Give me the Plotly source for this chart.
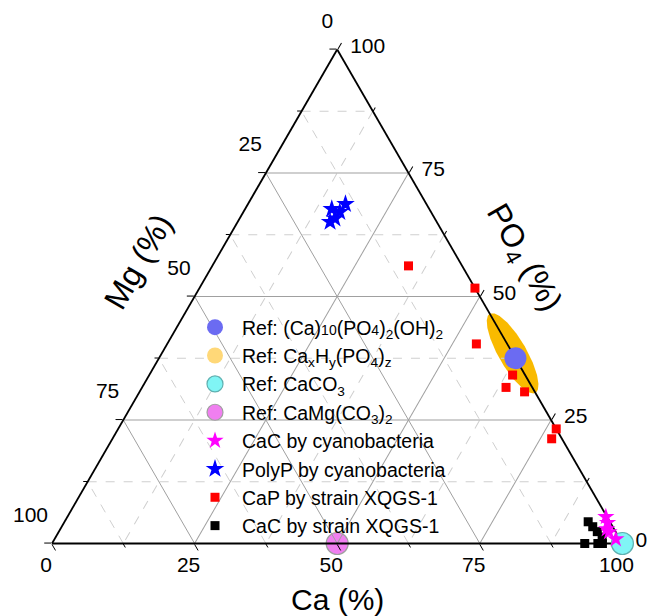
import numpy as np
import plotly.graph_objects as go

# ---------------- data (all values in %) ----------------
# ternary mapping: a = PO4 (top), b = Mg (bottom-left), c = Ca (bottom-right)
polyp_po4 = [67.7, 68.7, 67.1, 65.1, 65.8]
polyp_mg = [17.1, 14.2, 16.0, 18.7, 17.5]
polyp_ca = [15.2, 17.1, 16.9, 16.2, 16.7]

cac_cyano_po4 = [5.4, 4.2, 2.9, 2.3, 0.9]
cac_cyano_mg = [0.2, 0.5, 1.3, 1.2, 0.7]
cac_cyano_ca = [94.4, 95.3, 95.8, 96.5, 98.4]

cap_strain_po4 = [56.2, 51.7, 40.4, 34.1, 31.6, 30.7, 23.2, 21.2]
cap_strain_mg = [9.4, 0.0, 5.4, 2.2, 4.6, 1.8, 0.0, 1.8]
cap_strain_ca = [34.4, 48.3, 54.2, 63.7, 63.8, 67.5, 76.8, 77.0]

cac_strain_po4 = [4.4, 3.4, 2.4, 1.3, 0.0, 0.0, 0.0]
cac_strain_mg = [3.8, 3.5, 3.2, 2.9, 6.6, 4.3, 3.5]
cac_strain_ca = [91.8, 93.1, 94.4, 95.8, 93.4, 95.7, 96.5]

hap_po4, hap_mg, hap_ca = [37.5], [0.0], [62.5]
caco3_po4, caco3_mg, caco3_ca = [0.0], [0.0], [100.0]
dolo_po4, dolo_mg, dolo_ca = [0.0], [50.0], [50.0]

# Ca_xH_y(PO4)_z reference region: centre composition and half-axes (in % units)
caph_center_po4, caph_center_mg, caph_center_ca = 38.5, 0.0, 61.5
caph_half_long, caph_half_short = 8.0, 2.45

tick_vals = [0, 25, 50, 75, 100]
tick_labels = ["0", "25", "50", "75", "100"]
minor_vals = [12.5, 37.5, 62.5, 87.5]

# ---------------- layout geometry ----------------
W, H = 649, 616
L_px, R_px, B_px = 52.0, 622.4, 543.5
tri_w = R_px - L_px
tri_h = tri_w * np.sqrt(3) / 2
T_px = B_px - tri_h
dom_x = [L_px / W, R_px / W]
dom_y = [(H - B_px) / H, (H - T_px) / H]
PX = 100 / tri_w  # cartesian units per pixel (triangle side = 100 units)

FONT = "Liberation Sans, Arial, sans-serif"


def to_xy(a, c, dx=0.0, dy=0.0):
    """ternary (a=PO4, c=Ca) -> cartesian overlay coords, with optional pixel offset"""
    a = np.asarray(a, float)
    c = np.asarray(c, float)
    return c + a / 2 + dx * PX, a * np.sqrt(3) / 2 - dy * PX


fig = go.Figure()

# ellipse region (hidden cartesian overlay so it is not clipped by the triangle)
t = np.linspace(0, 2 * np.pi, 181)
s = caph_half_short * np.sin(t) / (np.sqrt(3) / 2)
e_a = caph_center_po4 + caph_half_long * np.cos(t) - 0.5 * s
e_c = caph_center_ca - caph_half_long * np.cos(t) - 0.5 * s
e_x, e_y = to_xy(e_a, e_c)
fig.add_trace(go.Scatter(x=e_x, y=e_y, mode="lines", fill="toself",
                         fillcolor="#F9BA00", line=dict(width=0),
                         showlegend=False, hoverinfo="skip"))

# ---------------- tick labels (Origin style placement) ----------------
tv = np.array(tick_vals, float)
zero = np.zeros_like(tv)
TICKFONT = dict(size=21, family=FONT, color="black")


def tick_text(xy, pos):
    return go.Scatter(x=xy[0], y=xy[1], mode="text", text=tick_labels,
                      textposition=pos, textfont=TICKFONT, cliponaxis=False,
                      showlegend=False, hoverinfo="skip")


# Mg labels along the left edge (Mg = v -> PO4 = 100 - v, Ca = 0)
fig.add_trace(tick_text(to_xy(100 - tv, zero, -4, -27), "middle left"))
# Ca labels along the bottom edge (Ca = v, PO4 = 0)
fig.add_trace(tick_text(to_xy(zero, tv, -6, 23), "middle center"))
# PO4 labels along the right edge (PO4 = v -> Ca = 100 - v)
fig.add_trace(tick_text(to_xy(tv, 100 - tv, 13, -2), "middle right"))


def st(a, b, c, name, symbol, size, color, lcolor=None, lwidth=0, rank=None,
       subplot="ternary2"):
    return go.Scatterternary(
        a=a, b=b, c=c, mode="markers", name=name, subplot=subplot,
        cliponaxis=False, legendrank=rank, hoverinfo="a+b+c+name",
        marker=dict(symbol=symbol, size=size, color=color,
                    line=dict(color=lcolor or color, width=lwidth)))


# bottom ternary (minor dashed grid) holds the dolomite reference
fig.add_trace(st(dolo_po4, dolo_mg, dolo_ca, "Ref: CaMg(CO<sub>3</sub>)<sub>2</sub>", "circle", 22,
                 "#F07FF0", "#a0a0a0", 1.2, rank=4, subplot="ternary"))
# top ternary (major grid, axes) holds the rest
fig.add_trace(st(caco3_po4, caco3_mg, caco3_ca, "Ref: CaCO<sub>3</sub>", "circle", 22,
                 "#80F5F5", "#5fb0b0", 1.2, rank=3))
fig.add_trace(st([None], [None], [None], "Ref: Ca<sub>x</sub>H<sub>y</sub>(PO<sub>4</sub>)<sub>z</sub>",
                 "circle", 22, "#FFD878", rank=2))
fig.add_trace(st(hap_po4, hap_mg, hap_ca,
                 "Ref: (Ca)<span style='font-size:14px'>10</span>(PO<span style='font-size:14px'>4</span>)<sub>2</sub>(OH)<sub>2</sub>",
                 "circle", 22, "#6B6BF2", rank=1))
fig.add_trace(st(cac_strain_po4, cac_strain_mg, cac_strain_ca, "CaC by strain XQGS-1", "square", 9,
                 "#000000", rank=8))
fig.add_trace(st(cap_strain_po4, cap_strain_mg, cap_strain_ca, "CaP by strain XQGS-1", "square", 9,
                 "#FF0000", rank=7))
fig.add_trace(st(polyp_po4, polyp_mg, polyp_ca, "PolyP by cyanobacteria", "star", 14,
                 "#0000FF", rank=6))
fig.add_trace(st(cac_cyano_po4, cac_cyano_mg, cac_cyano_ca, "CaC by cyanobacteria", "star", 13,
                 "#FF00FF", rank=5))


def major_axis():
    return dict(tickmode="array", tickvals=tick_vals,
                ticks="outside", ticklen=7, tickwidth=1.2, tickcolor="black",
                showline=True, linecolor="black", linewidth=1.8,
                showgrid=True, gridcolor="#a0a0a0", gridwidth=1,
                showticklabels=False, title=dict(text=""), min=0, layer="below traces")


def minor_axis():
    return dict(tickmode="array", tickvals=minor_vals, ticks="outside", ticklen=4,
                tickwidth=1, tickcolor="black", showline=False,
                showgrid=True, gridcolor="#cfcfcf", gridwidth=1, griddash="dash",
                showticklabels=False, title=dict(text=""), min=0)


fig.update_layout(
    width=W, height=H,
    margin=dict(l=0, r=0, t=0, b=0),
    paper_bgcolor="white", plot_bgcolor="rgba(0,0,0,0)",
    font=dict(family=FONT, color="black"),
    xaxis=dict(domain=[0, 1], range=[(0 - L_px) * PX, (W - L_px) * PX],
               visible=False, fixedrange=True),
    yaxis=dict(domain=[0, 1], range=[(B_px - H) * PX, B_px * PX],
               visible=False, fixedrange=True),
    ternary=dict(domain=dict(x=dom_x, y=dom_y), sum=100, bgcolor="rgba(0,0,0,0)",
                 aaxis=minor_axis(), baxis=minor_axis(), caxis=minor_axis()),
    ternary2=dict(domain=dict(x=dom_x, y=dom_y), sum=100, bgcolor="rgba(0,0,0,0)",
                  aaxis=major_axis(), baxis=major_axis(), caxis=major_axis()),
    legend=dict(x=188 / W, y=1 - 308 / H, xanchor="left", yanchor="top",
                bgcolor="rgba(0,0,0,0)", font=dict(size=19.5, family=FONT, color="black"),
                itemwidth=44, tracegroupgap=0),
    showlegend=True,
    annotations=[
        dict(text="Ca (%)", x=337 / W, y=1 - 599 / H, xref="paper", yref="paper",
             xanchor="center", yanchor="middle",
             showarrow=False, font=dict(size=30, family=FONT)),
        dict(text="Mg (%)", x=138 / W, y=1 - 262 / H, xref="paper", yref="paper",
             xanchor="center", yanchor="middle",
             showarrow=False, textangle=-60, font=dict(size=32, family=FONT)),
        dict(text="PO<sub>4</sub> (%)", x=522 / W, y=1 - 258 / H, xref="paper", yref="paper",
             xanchor="center", yanchor="middle",
             showarrow=False, textangle=60, font=dict(size=32, family=FONT)),
    ],
)

fig.write_html("out.html", config={"displayModeBar": False},
               post_script="document.body.style.margin='0px';")
